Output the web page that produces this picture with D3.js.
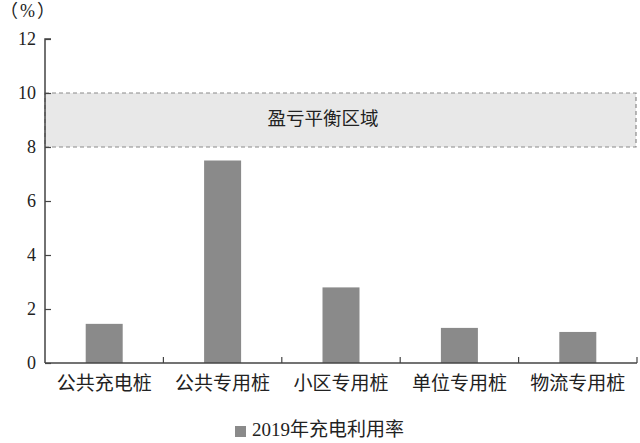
<!DOCTYPE html>
<html>
<head>
<meta charset="utf-8">
<script src="https://cdn.jsdelivr.net/npm/d3@7"></script>
<style>
  body { margin: 0; background: #fff; }
  svg text { font-family: "Liberation Serif", "Noto Sans CJK SC", serif; fill: #222; }
</style>
</head>
<body>
<svg id="chart"></svg>
<script>
// data
const categories = ['公共充电桩', '公共专用桩', '小区专用桩', '单位专用桩', '物流专用桩'];
const values = [1.45, 7.5, 2.8, 1.3, 1.15];
const yTicks = [0, 2, 4, 6, 8, 10, 12];
const zone = [8, 10];
const zoneLabel = '盈亏平衡区域';
const seriesName = '2019年充电利用率';
const unitLabel = '（%）';

const width = 640, height = 443;
const margin = {top: 39, right: 3, bottom: 80, left: 45};

const svg = d3.select('#chart')
  .attr('width', width)
  .attr('height', height);

const x = d3.scaleBand()
  .domain(categories)
  .range([margin.left, width - margin.right])
  .paddingInner(0).paddingOuter(0);

const y = d3.scaleLinear()
  .domain([0, 12])
  .range([height - margin.bottom, margin.top]);

// break-even zone
svg.append('rect')
  .attr('x', margin.left)
  .attr('y', y(zone[1]))
  .attr('width', width - margin.right - margin.left - 1)
  .attr('height', y(zone[0]) - y(zone[1]))
  .attr('fill', '#e8e8e8')
  .attr('stroke', '#8a8a8a')
  .attr('stroke-width', 1.2)
  .attr('stroke-dasharray', '4,3');

svg.append('text')
  .attr('x', 323)
  .attr('y', (y(zone[0]) + y(zone[1])) / 2 + 1)
  .attr('text-anchor', 'middle')
  .attr('dominant-baseline', 'middle')
  .style('font-size', '18.5px')
  .text(zoneLabel);

// bars
const barW = 37;
svg.selectAll('rect.bar')
  .data(values)
  .join('rect')
  .attr('class', 'bar')
  .attr('x', (d, i) => x(categories[i]) + x.bandwidth() / 2 - barW / 2)
  .attr('y', d => y(d))
  .attr('width', barW)
  .attr('height', d => y(0) - y(d))
  .attr('fill', '#8a8a8a');

// y axis
const yAxis = svg.append('g')
  .attr('transform', `translate(${margin.left},0)`)
  .call(d3.axisRight(y).tickValues(yTicks).tickSize(6).tickFormat(d3.format('d')));
yAxis.select('.domain').attr('stroke', '#444').attr('stroke-width', 1.5)
  .attr('d', `M6,${y(12)}H0V${y(0)}`);
yAxis.selectAll('.tick line').attr('stroke', '#444').attr('stroke-width', 1.2);
yAxis.selectAll('.tick text')
  .attr('x', -9)
  .attr('text-anchor', 'end')
  .style('font-size', '18px')
  .attr('fill', '#222');

// x axis
const xAxis = svg.append('g')
  .attr('transform', `translate(0,${y(0)})`)
  .call(d3.axisBottom(x).tickSize(0).tickPadding(14));
xAxis.select('.domain').attr('stroke', '#444').attr('stroke-width', 1.5)
  .attr('d', `M${margin.left},0H${width - margin.right}`);
xAxis.selectAll('.tick text')
  .style('font-size', '19px')
  .attr('fill', '#222');

// separators between bands, pointing up
const seps = categories.map(c => x(c) + x.bandwidth());
xAxis.selectAll('line.sep')
  .data(seps)
  .join('line')
  .attr('class', 'sep')
  .attr('x1', d => d).attr('x2', d => d)
  .attr('y1', 0).attr('y2', -6)
  .attr('stroke', '#444')
  .attr('stroke-width', 1.2);

// unit label
svg.append('text')
  .attr('x', 0)
  .attr('y', 13)
  .attr('dominant-baseline', 'middle')
  .style('font-size', '18px')
  .style('letter-spacing', '2px')
  .text(unitLabel);

// legend
const lg = svg.append('g').attr('transform', 'translate(235,426)');
lg.append('rect')
  .attr('width', 11).attr('height', 11)
  .attr('fill', '#8a8a8a');
lg.append('text')
  .attr('x', 17)
  .attr('y', 6)
  .attr('dominant-baseline', 'middle')
  .style('font-size', '19px')
  .text(seriesName);
</script>
</body>
</html>
